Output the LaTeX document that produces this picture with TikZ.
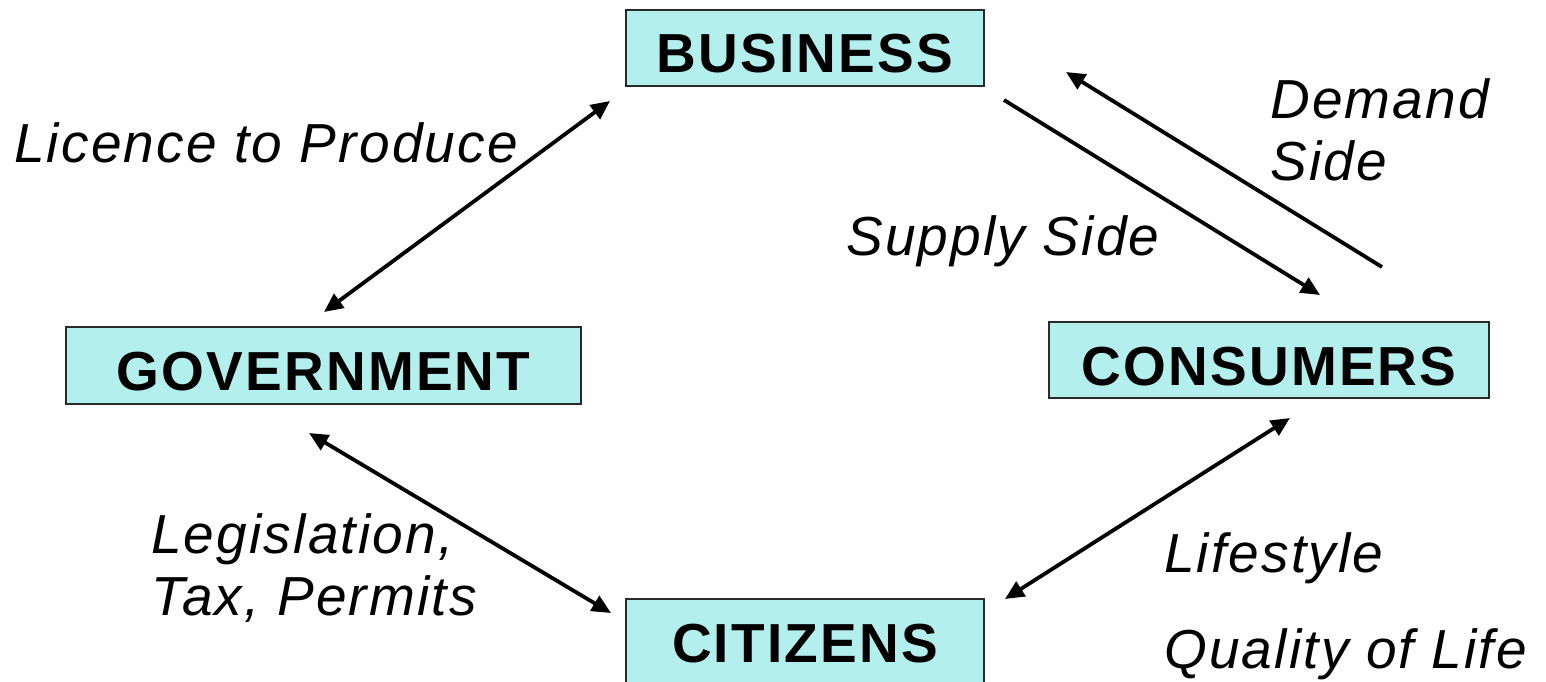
\documentclass[tikz,border=0pt]{standalone}
\usepackage{fontspec}
\setmainfont{Liberation Sans}
\newfontfamily\boxfont{Liberation Sans}[LetterSpace=4.0]
\newfontfamily\notefont{Liberation Sans}[LetterSpace=4.0]
\usetikzlibrary{arrows.meta}
\definecolor{boxfill}{HTML}{B3EFED}
\definecolor{boxline}{HTML}{2A2A2A}
\begin{document}
\begin{tikzpicture}[x=1pt,y=-1pt,
  party/.style={draw=boxline, line width=1.6pt, fill=boxfill, inner sep=0pt,
    minimum height=76pt, text height=50pt, text depth=0pt,
    font=\boxfont\bfseries\fontsize{55}{60}\selectfont},
  note/.style={anchor=base west, inner sep=0pt,
    font=\notefont\itshape\fontsize{55}{61}\selectfont},
  link/.style={line width=3.8pt, black, >={Triangle[length=19pt,width=17pt]}}]
  \useasboundingbox (0,0) rectangle (1546,682);
  \clip (0,0) rectangle (1546,682);

  % the four parties
  \node[party, minimum width=358pt] (bus) at (805,48) {BUSINESS};
  \node[party, minimum width=515pt, minimum height=77pt] (gov) at (323.5,365.5) {GOVERNMENT};
  \node[party, minimum width=440pt] (con) at (1269,360) {CONSUMERS};
  \node[party, minimum width=358pt, minimum height=100pt, text height=26pt] (cit) at (805,649) {CITIZENS};

  % arrow ends beside each box
  \coordinate (gb1) at (324,312);  \coordinate (gb2) at (610,101);
  \coordinate (bc1) at (1004,100); \coordinate (bc2) at (1320,295);
  \coordinate (cb1) at (1382,267); \coordinate (cb2) at (1066,72);
  \coordinate (gc1) at (309,433);  \coordinate (gc2) at (611,613);
  \coordinate (cc1) at (1290,418); \coordinate (cc2) at (1005,599);

  % relations
  \draw[link, <->] (gb1) -- (gb2);
  \draw[link, ->]  (bc1) -- (bc2);
  \draw[link, ->]  (cb1) -- (cb2);
  \draw[link, <->] (gc1) -- (gc2);
  \draw[link, <->] (cc1) -- (cc2);

  % labels
  \node[note] (lic) at (14,162) {Licence to Produce};
  \node[note] (dem1) at (1270,118) {Demand};
  \node[note] (dem2) at (1270,180) {Side};
  \node[note] (sup) at (846,255) {Supply Side};
  \node[note] (leg1) at (151,553) {Legislation,};
  \node[note] (leg2) at (151,615) {Tax, Permits};
  \node[note] (life) at (1164,572) {Lifestyle};
  \node[note] (qol) at (1164,668) {Quality of Life};
\end{tikzpicture}
\end{document}
